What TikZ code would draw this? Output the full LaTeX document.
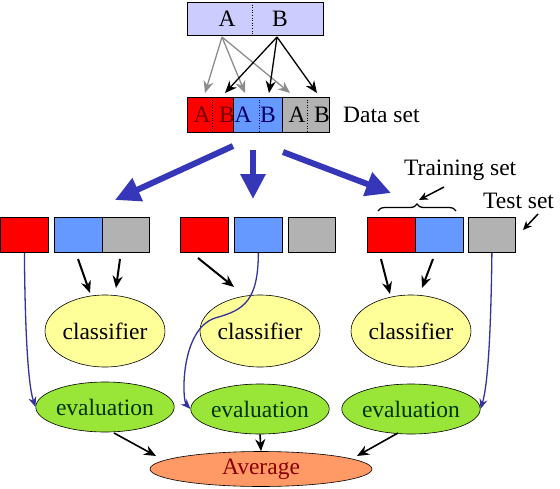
\documentclass[tikz,border=0pt]{standalone}
\usepackage{fontspec}
\setmainfont{Liberation Serif}
\usetikzlibrary{arrows.meta,shapes.geometric,decorations.pathreplacing}
\definecolor{lav}{HTML}{CCCCFF}
\definecolor{cred}{HTML}{FF0000}
\definecolor{cblue}{HTML}{6699FF}
\definecolor{cgray}{HTML}{B2B2B2}
\definecolor{cyel}{HTML}{FFFF99}
\definecolor{cgreen}{HTML}{99E639}
\definecolor{corange}{HTML}{FF9966}
\definecolor{bigblue}{HTML}{3636B8}
\definecolor{thinblue}{HTML}{333399}
\definecolor{garrow}{HTML}{8C8C8C}
\definecolor{dred}{HTML}{8B0000}
\definecolor{dnavy}{HTML}{000066}
\definecolor{dgreen}{HTML}{003300}
\begin{document}
\begin{tikzpicture}[x=1pt,y=-1pt,
  every node/.style={font=\fontsize{23.5}{28}\selectfont},
  cell/.style={draw=black,line width=0.8pt,minimum width=47pt,minimum height=35pt,inner sep=0pt,anchor=north west},
  lbl/.style={inner sep=0pt},
  clsf/.style={ellipse,draw=black,line width=0.6pt,fill=cyel,minimum width=101pt,minimum height=72pt,inner sep=0pt},
  evalu/.style={ellipse,draw=black,line width=0.6pt,fill=cgreen,minimum width=114pt,minimum height=50pt,inner sep=0pt,text=dgreen},
  toparrow/.style={line width=1.3pt,-{Stealth[length=12pt,width=10pt]}},
  bigarrow/.style={bigblue,line width=6pt,-{Triangle[length=25pt,width=24pt]}},
  blkarrow/.style={black,line width=2pt,-{Stealth[length=12pt,width=10pt]}},
  curvearrow/.style={thinblue,line width=1.3pt,-{Stealth[length=10pt,width=8pt]}},
  dotline/.style={dotted,line width=0.6pt}
]
\useasboundingbox (0,0) rectangle (560,488);
% top box
\node[draw=black,line width=0.8pt,fill=lav,minimum width=136pt,minimum height=33pt,inner sep=0pt,anchor=north west] (top) at (187,2) {};
\draw[dotline] (252,2) -- (252,35);
\node[lbl] (tA) at (227,19) {A};
\node[lbl] (tB) at (280,19) {B};
% data set
\node[cell,fill=cred,minimum width=46pt] (dr) at (187,97) {};
\node[cell,fill=cblue,minimum width=49pt] (db) at (233,97) {};
\node[cell,fill=cgray,minimum width=47pt] (dg) at (282,97) {};
\draw[dotline] (212,97) -- (212,132);
\draw[dotline,dnavy] (259,97) -- (259,132);
\draw[dotline] (307,97) -- (307,132);
\node[lbl,text=dred!80!black] (rA) at (202,115) {A};
\node[lbl,text=dred!80!black] (rB) at (227,115) {B};
\node[lbl,text=dnavy] (bA) at (243,115) {A};
\node[lbl,text=dnavy] (bB) at (268,115) {B};
\node[lbl] (gA) at (297,115) {A};
\node[lbl] (gB) at (322,115) {B};
\node[lbl,anchor=west] (ds) at (343,115) {Data set};
% top arrows
\coordinate (sa) at (222,37);
\coordinate (sb) at (277,37);
\coordinate (e1) at (205,93);
\coordinate (e2) at (245,93);
\coordinate (e3) at (290,93);
\coordinate (f1) at (225,93);
\coordinate (f2) at (269,93);
\coordinate (f3) at (317,93);
\draw[toparrow,garrow] (sa) -- (e1);
\draw[toparrow,garrow] (sa) -- (e2);
\draw[toparrow,garrow] (sa) -- (e3);
\draw[toparrow,black] (sb) -- (f1);
\draw[toparrow,black] (sb) -- (f2);
\draw[toparrow,black] (sb) -- (f3);
% big arrows
\coordinate (b1s) at (233,146);
\coordinate (b1e) at (115,200);
\coordinate (b2s) at (253,150);
\coordinate (b2e) at (253,199);
\coordinate (b3s) at (283,152);
\coordinate (b3e) at (391,193);
\draw[bigarrow] (b1s) -- (b1e);
\draw[bigarrow] (b2s) -- (b2e);
\draw[bigarrow] (b3s) -- (b3e);
% row of boxes
\node[cell,fill=cred,minimum width=48pt] (r1) at (0,217) {};
\node[cell,fill=cblue,minimum width=48pt] (u1) at (54,217) {};
\node[cell,fill=cgray,minimum width=47pt] (g1) at (102,217) {};
\node[cell,fill=cred,minimum width=48pt] (r2) at (180,217) {};
\node[cell,fill=cblue,minimum width=48pt] (u2) at (234,217) {};
\node[cell,fill=cgray,minimum width=47pt] (g2) at (288,217) {};
\node[cell,fill=cred,minimum width=48pt] (r3) at (367,217) {};
\node[cell,fill=cblue,minimum width=48pt] (u3) at (415,217) {};
\node[cell,fill=cgray,minimum width=47pt] (g3) at (468,217) {};
% brace and labels
\draw[decorate,decoration={brace,amplitude=7pt},line width=1.3pt] (378,211) -- (456,211);
\node[lbl,anchor=west] (tr) at (404,170) {Training set};
\node[lbl,anchor=west] (ts) at (483,201) {Test set};
\coordinate (ta1) at (444,187);
\coordinate (ta2) at (419,200);
\coordinate (tb1) at (538,214);
\coordinate (tb2) at (523,230);
\draw[black,line width=1.5pt,-{Stealth[length=9pt,width=8pt]}] (ta1) -- (ta2);
\draw[black,line width=1.5pt,-{Stealth[length=9pt,width=8pt]}] (tb1) -- (tb2);
% classifiers
\node[clsf] (c1) at (105,331) {classifier};
\node[clsf] (c2) at (260,331) {classifier};
\node[clsf] (c3) at (411,331) {classifier};
% evaluations
\node[evalu] (v1) at (105,407) {evaluation};
\node[evalu] (v2) at (260,409) {evaluation};
\node[evalu] (v3) at (411,409) {evaluation};
% average
\node[ellipse,draw=black,line width=0.6pt,fill=corange,minimum width=222pt,minimum height=35pt,inner sep=0pt,text=dred] (avg) at (261,469) {Average};
% black arrows to classifiers
\coordinate (k1a) at (78,259);
\coordinate (k1b) at (90,293);
\coordinate (k2a) at (120,259);
\coordinate (k2b) at (116,288);
\coordinate (k3a) at (198,258);
\coordinate (k3b) at (234,287);
\coordinate (k4a) at (381,259);
\coordinate (k4b) at (390,294);
\coordinate (k5a) at (433,259);
\coordinate (k5b) at (422,288);
\draw[blkarrow] (k1a) -- (k1b);
\draw[blkarrow] (k2a) -- (k2b);
\draw[blkarrow] (k3a) -- (k3b);
\draw[blkarrow] (k4a) -- (k4b);
\draw[blkarrow] (k5a) -- (k5b);
% blue curves
\draw[curvearrow] (r1.south) .. controls (25,330) and (28,385) .. (v1.west);
\draw[curvearrow] (u2.south) .. controls (258,300) and (245,310) .. (215,318) .. controls (180,330) and (182,400) .. (v2.west);
\draw[curvearrow] (g3.south) .. controls (491,330) and (488,385) .. (v3.east);
% evaluation to average
\coordinate (a1s) at (114,433);
\coordinate (a1e) at (156,456);
\coordinate (a3s) at (398,433);
\coordinate (a3e) at (357,456);
\draw[blkarrow,line width=1.6pt] (a1s) -- (a1e);
\draw[blkarrow,line width=1.6pt] (v2.south) -- (avg.north);
\draw[blkarrow,line width=1.6pt] (a3s) -- (a3e);
\end{tikzpicture}
\end{document}
